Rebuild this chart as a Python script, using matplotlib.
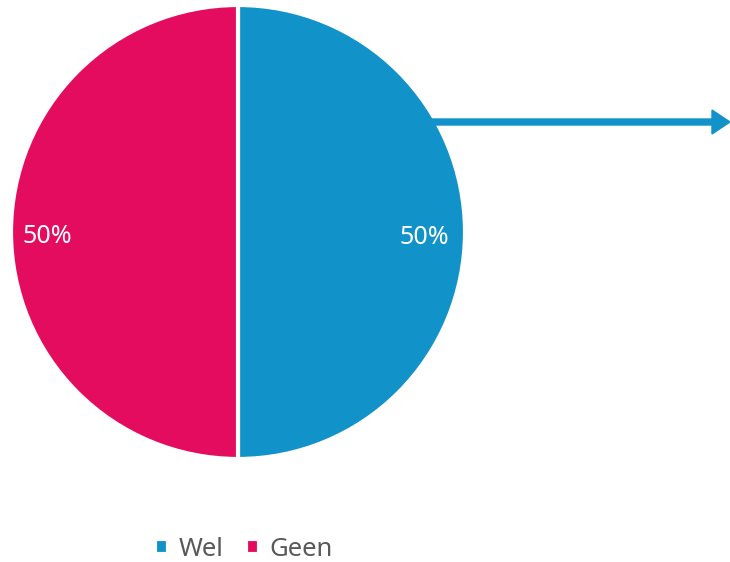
import matplotlib
matplotlib.use("Agg")
from matplotlib import pyplot as plt
from matplotlib.patches import FancyArrow

labels = ["Wel", "Geen"]
values = [50, 50]
colors = ["#1192C8", "#E30C5E"]

plt.rcParams['font.family'] = ['Noto Sans', 'DejaVu Sans']

fig = plt.figure(figsize=(7.3, 5.62), dpi=100)
ax = fig.add_axes([0, 0, 1, 1])

wedges, texts, autotexts = ax.pie(values, colors=colors, startangle=90, counterclock=False,
                                  center=(238, 330), radius=227, autopct='%1.0f%%', pctdistance=0.83,
                                  wedgeprops=dict(edgecolor='white', linewidth=3),
                                  textprops=dict(color='white', fontsize=18), frame=True)
ax.set_xlim(0, 730)
ax.set_ylim(0, 562)
ax.set_aspect('equal')
ax.axis('off')

# labels iets lager zetten zoals in het origineel
for t in autotexts:
    x, y = t.get_position()
    t.set_position((x - 2, y - 5))

# pijl naar rechts
arrow = FancyArrow(425, 440, 305, 0, width=6, head_width=24, head_length=18,
                   length_includes_head=True, color=colors[0], zorder=1)
ax.add_patch(arrow)

ax.legend(wedges, labels, loc='center', bbox_to_anchor=(244 / 730, 1 - 549 / 562), ncol=2,
          frameon=False, fontsize=18.5, handlelength=0.5, handleheight=0.5, handletextpad=0.4,
          columnspacing=0.9, labelcolor='#595959', borderpad=0.2)

plt.savefig("out.png", dpi=100)
plt.close('all')
